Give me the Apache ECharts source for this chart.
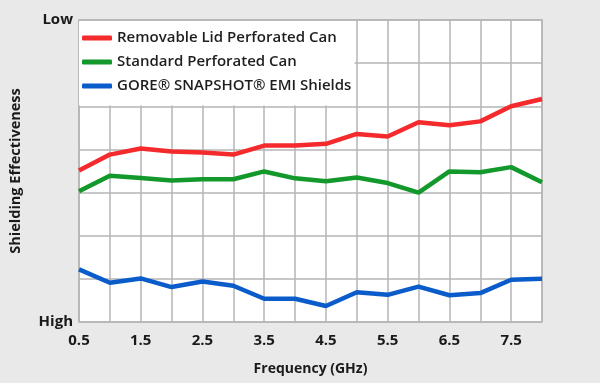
<!DOCTYPE html>
<html>
<head>
<meta charset="utf-8">
<script src="https://cdn.jsdelivr.net/npm/echarts@6/dist/echarts.min.js"></script>
<style>
html,body{margin:0;padding:0;background:#e9e9e9;}
#chart{width:600px;height:383px;}
</style>
</head>
<body>
<div id="chart"></div>
<script>
const categories = ['0.5','1.0','1.5','2.0','2.5','3.0','3.5','4.0','4.5','5.0','5.5','6.0','6.5','7.0','7.5','8.0'];
const removableLid = [3.51,3.88,4.02,3.95,3.93,3.88,4.09,4.09,4.13,4.36,4.30,4.63,4.56,4.65,5.00,5.17];
const standardCan = [3.03,3.39,3.34,3.28,3.31,3.31,3.49,3.33,3.26,3.35,3.22,3.00,3.49,3.47,3.59,3.24];
const goreShield = [1.22,0.91,1.01,0.81,0.94,0.84,0.54,0.54,0.37,0.69,0.63,0.82,0.62,0.67,0.98,1.00];
const seriesNames = ['Removable Lid Perforated Can','Standard Perforated Can','GORE\u00AE SNAPSHOT\u00AE EMI Shields'];
const yTickLabels = {0:'High', 7:'Low'};
const xAxisName = 'Frequency (GHz)';
const yAxisName = 'Shielding Effectiveness';

const fontFamily = '"Open Sans", "Noto Sans", sans-serif';
const gridColor = '#b5b5b5';
const colors = ['#f42a2c','#13982b','#0b5ccb'];

const chart = echarts.init(document.getElementById('chart'));
chart.setOption({
  backgroundColor: '#e9e9e9',
  animation: false,
  color: colors,
  grid: {left: 78, right: 58, top: 20, bottom: 61, show: true, backgroundColor: '#ffffff', borderColor: gridColor, borderWidth: 1.5},
  graphic: [{
    type: 'rect', z: 1, silent: true,
    shape: {x: 79, y: 21, width: 275.5, height: 84.5},
    style: {fill: '#ffffff'}
  }],
  legend: {
    orient: 'vertical', left: 82, top: 29, padding: 0,
    itemWidth: 30, itemHeight: 5, itemGap: 6, icon: 'roundRect',
    textStyle: {fontFamily: fontFamily, fontSize: 15, fontWeight: 600, color: '#1e1e1e', lineHeight: 18},
    data: seriesNames
  },
  xAxis: {
    type: 'category', data: categories, boundaryGap: false,
    name: xAxisName, nameLocation: 'middle', nameGap: 40,
    nameTextStyle: {fontFamily: fontFamily, fontSize: 14, fontWeight: 'bold', color: '#1a1a1a'},
    axisLine: {show: false}, axisTick: {show: false},
    axisLabel: {interval: 1, margin: 11, fontFamily: fontFamily, fontSize: 15, fontWeight: 'bold', color: '#1a1a1a'},
    splitLine: {show: true, interval: 0, lineStyle: {color: gridColor, width: 1.5}}
  },
  yAxis: {
    type: 'value', min: 0, max: 7, interval: 1,
    name: yAxisName, nameLocation: 'middle', nameGap: 56,
    nameTextStyle: {fontFamily: fontFamily, fontSize: 14.5, fontWeight: 'bold', color: '#1a1a1a'},
    axisLine: {show: false}, axisTick: {show: false},
    axisLabel: {margin: 6, fontFamily: fontFamily, fontSize: 15, fontWeight: 'bold', color: '#1a1a1a',
      formatter: v => yTickLabels[v] || ''},
    splitLine: {show: true, lineStyle: {color: gridColor, width: 1.5}}
  },
  series: [
    {name: seriesNames[0], type: 'line', data: removableLid, symbol: 'none', lineStyle: {width: 4.5}, z: 3},
    {name: seriesNames[1], type: 'line', data: standardCan, symbol: 'none', lineStyle: {width: 4.5}, z: 3},
    {name: seriesNames[2], type: 'line', data: goreShield, symbol: 'none', lineStyle: {width: 4.5}, z: 3}
  ]
});
</script>
</body>
</html>
